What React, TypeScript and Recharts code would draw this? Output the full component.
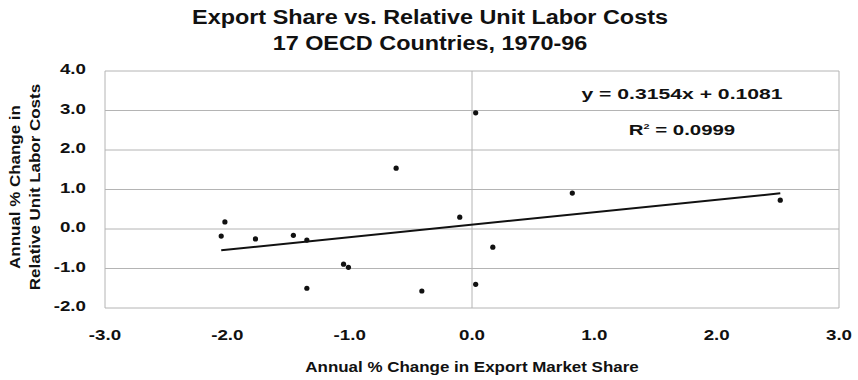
import React from "react";
import {
  ScatterChart,
  Scatter,
  XAxis,
  YAxis,
  CartesianGrid,
  ReferenceLine,
} from "recharts";

// Annual % change in export market share, one entry per country
const exportShare = [
  -2.05, -2.02, -1.77, -1.46, -1.35, -1.35, -1.05, -1.01,
  -0.62, -0.41, -0.1, 0.03, 0.03, 0.17, 0.82, 2.52,
];
// Annual % change in relative unit labor costs, same order
const unitLaborCost = [
  -0.18, 0.18, -0.25, -0.16, -0.28, -1.5, -0.89, -0.97,
  1.54, -1.57, 0.3, 2.94, -1.4, -0.46, 0.91, 0.73,
];

// Fitted regression line
const slope = 0.3154;
const intercept = 0.1081;
const rSquared = 0.0999;
const fitRange = [-2.05, 2.52];

const xTicks = [-3, -2, -1, 0, 1, 2, 3];
const yTicks = [-2, -1, 0, 1, 2, 3, 4];

const points = exportShare.map((x, i) => ({ x, y: unitLaborCost[i] }));
const fitLine = fitRange.map((x) => ({ x, y: slope * x + intercept }));

const FONT = "'Liberation Sans', Arial, sans-serif";
const GRID = "#b4b4b4";
const INK = "#111";
const PLOT_BOTTOM = 308;

const fmt = (v: number) => v.toFixed(1);

const Dot = (props: any) => (
  <circle cx={props.cx} cy={props.cy} r={2.6} fill={INK} />
);
const NoDot = () => <g />;

// Wide bold tick labels
const XTick = (props: any) => (
  <text
    transform={`translate(${props.x},${PLOT_BOTTOM + 32}) scale(1.25,1)`}
    textAnchor="middle"
    fontFamily={FONT}
    fontSize={15}
    fontWeight={700}
    fill={INK}
  >
    {fmt(props.payload.value)}
  </text>
);
const YTick = (props: any) => (
  <text
    transform={`translate(86,${props.y + 3.4}) scale(1.25,1)`}
    textAnchor="end"
    fontFamily={FONT}
    fontSize={15}
    fontWeight={700}
    fill={INK}
  >
    {fmt(props.payload.value)}
  </text>
);

const textBox = (
  left: number,
  top: number,
  width: number,
  fontSize: number,
  lineHeight: number,
  scale: number
): React.CSSProperties => ({
  position: "absolute",
  left,
  top,
  width,
  textAlign: "center",
  fontSize,
  fontWeight: 700,
  lineHeight: `${lineHeight}px`,
  color: INK,
  whiteSpace: "nowrap",
  transform: `scaleX(${scale})`,
  transformOrigin: "center",
});

export default function App() {
  return (
    <div
      style={{
        position: "absolute",
        left: 0,
        top: 0,
        width: 858,
        height: 380,
        background: "#fff",
        fontFamily: FONT,
        overflow: "hidden",
      }}
    >
      <ScatterChart
        width={858}
        height={380}
        margin={{ top: 71, right: 19, left: 0, bottom: 0 }}
      >
        <CartesianGrid horizontal vertical={false} stroke={GRID} strokeWidth={1} />
        <XAxis
          type="number"
          dataKey="x"
          domain={[-3, 3]}
          ticks={xTicks}
          axisLine={false}
          tickLine={false}
          height={72}
          allowDataOverflow
          tick={XTick}
        />
        <YAxis
          type="number"
          dataKey="y"
          domain={[-2, 4]}
          ticks={yTicks}
          axisLine={false}
          tickLine={false}
          width={105}
          allowDataOverflow
          tick={YTick}
        />
        <ReferenceLine x={-3} stroke={GRID} strokeWidth={1} />
        <ReferenceLine x={3} stroke={GRID} strokeWidth={1} />
        <ReferenceLine x={0} stroke={GRID} strokeWidth={1} />
        <Scatter data={points} shape={Dot} isAnimationActive={false} />
        <Scatter
          data={fitLine}
          line={{ stroke: INK, strokeWidth: 2 }}
          shape={NoDot}
          isAnimationActive={false}
        />
      </ScatterChart>

      {/* Title */}
      <div style={textBox(130, 4, 600, 20, 26, 1.17)}>
        Export Share vs. Relative Unit Labor Costs
        <br />
        17 OECD Countries, 1970-96
      </div>

      {/* Regression equation */}
      <div style={textBox(582, 86, 200, 15, 15, 1.41)}>
        y = {slope}x + {intercept}
      </div>
      <div style={textBox(582, 122, 200, 15, 15, 1.36)}>
        R<sup style={{ fontSize: 8, verticalAlign: "6px", lineHeight: 0 }}>2</sup> = {rSquared}
      </div>

      {/* X axis title */}
      <div style={textBox(272, 359, 400, 15, 15, 1.13)}>
        Annual % Change in Export Market Share
      </div>

      {/* Y axis title */}
      <div
        style={{
          position: "absolute",
          left: 25 - 130,
          top: 187 - 20,
          width: 260,
          height: 40,
          textAlign: "center",
          fontSize: 15,
          fontWeight: 700,
          lineHeight: "20px",
          color: INK,
          whiteSpace: "nowrap",
          transform: "rotate(-90deg) scaleX(1.13)",
          transformOrigin: "center",
        }}
      >
        Annual % Change in
        <br />
        Relative Unit Labor Costs
      </div>
    </div>
  );
}
